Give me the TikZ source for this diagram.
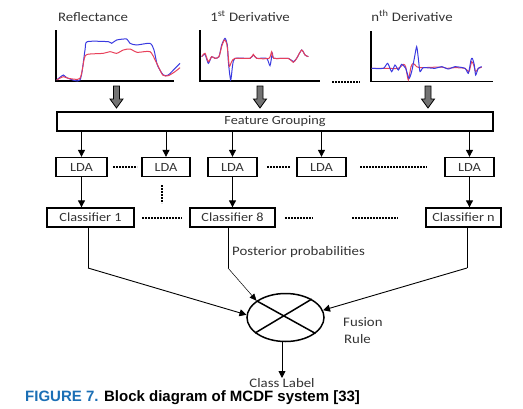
\documentclass[tikz,border=0pt]{standalone}
\usepackage{fontspec}
\setmainfont{Carlito}[FakeStretch=1.14]
\newfontfamily\capfont{Liberation Sans}
\usetikzlibrary{arrows.meta,shapes.geometric}
\definecolor{capblue}{HTML}{1B6FB5}
\definecolor{blueline}{HTML}{3A3AE0}
\definecolor{redline}{HTML}{E8405A}
\definecolor{txt}{HTML}{333333}
\begin{document}
\begin{tikzpicture}[x=1pt,y=-1pt,
  box/.style={draw, line width=1.3pt, minimum height=19pt, inner sep=0pt, text=txt, font=\fontsize{12.5}{14}\selectfont},
  arr/.style={-{Triangle[length=7pt,width=7pt]}, line width=0.9pt},
  thinarr/.style={-{Triangle[length=7pt,width=6pt]}, line width=0.5pt},
  lbl/.style={font=\fontsize{13}{15}\selectfont, text=txt, inner sep=0pt},
  dotsline/.style={line width=1.6pt, dash pattern=on 1.8pt off 1.2pt},
  axis/.style={line width=1.1pt},
  bl/.style={blueline, line width=1pt},
  rd/.style={redline, line width=1pt},
  blockarr/.style={fill=black!55, draw=black, line width=0.8pt}
]
\useasboundingbox (0,0) rectangle (523,408);

% titles
\node[lbl] (t1) at (93,17) {Reflectance};
\node[lbl] (t2) at (250,16) {1\textsuperscript{st} Derivative};
\node[lbl] (t3) at (412,16) {n\textsuperscript{th} Derivative};

% plot 1
\begin{scope}[shift={(50,25)}, x=0.3333pt, y=-0.3333pt]
\draw[axis] (18,15) -- (18,168) -- (372,168);
\draw[bl] plot[smooth, tension=0.4] coordinates {(20,165) (40,150) (50,158) (90,165) (105,75) (112,50) (175,50) (185,55) (200,45) (230,42) (240,55) (260,60) (300,55) (312,75) (322,120) (340,150) (355,150) (375,130) (390,115)};
\draw[rd] plot[smooth, tension=0.4] coordinates {(20,165) (40,155) (55,160) (90,160) (103,100) (112,88) (160,85) (180,80) (200,85) (220,75) (240,72) (262,82) (300,80) (318,110) (338,150) (355,152) (375,140) (390,128)};
\end{scope}

% plot 2
\begin{scope}[shift={(195,25)}, x=0.3333pt, y=-0.3333pt]
\draw[axis] (15,15) -- (15,168) -- (375,168);
\draw[bl] plot[smooth, tension=0.4] coordinates {(20,95) (30,88) (40,115) (50,95) (60,100) (72,95) (80,60) (90,40) (97,60) (100,110) (107,165) (113,120) (120,100) (165,100) (175,90) (185,100) (215,100) (225,122) (232,85) (237,100) (280,100) (295,110) (305,100) (320,75) (330,90) (340,95)};
\draw[rd] plot[smooth, tension=0.4] coordinates {(20,95) (30,85) (40,110) (50,95) (60,100) (72,95) (80,65) (88,45) (95,55) (100,95) (103,125) (110,110) (120,100) (165,100) (175,88) (185,100) (222,100) (230,80) (237,100) (280,100) (295,112) (305,100) (320,75) (330,90) (340,95)};
\end{scope}

% plot 3
\begin{scope}[shift={(365,25)}, x=0.3333pt, y=-0.3333pt]
\draw[axis] (18,18) -- (18,170) -- (385,170);
\draw[rd] plot[smooth, tension=0.4] coordinates {(20,130) (60,130) (100,130) (115,118) (122,125) (130,165) (138,125) (145,115) (155,125) (170,128) (230,126) (245,130) (270,128) (300,130) (312,140) (320,110) (326,120) (332,140) (340,130) (350,127)};
\draw[bl] plot[smooth, tension=0.4] coordinates {(20,130) (55,130) (68,115) (80,140) (90,120) (100,135) (110,118) (122,130) (132,160) (140,140) (148,100) (155,65) (160,100) (165,140) (175,128) (210,130) (230,125) (250,132) (270,125) (300,130) (310,145) (318,105) (322,100) (328,120) (332,150) (340,130) (350,125)};
\end{scope}

\draw[dotsline] (332,82) -- (360,82);

% block arrows
\foreach \x in {116.5,260,428}{
  \draw[blockarr] (\x-3,86) -- (\x+3,86) -- (\x+3,99) -- (\x+6.5,99) -- (\x,108) -- (\x-6.5,99) -- (\x-3,99) -- cycle;
}

% feature grouping
\node[box, minimum width=436pt] (fg) at (275,121.5) {Feature Grouping};

% LDA
\node[box, minimum width=51pt] (lda1) at (81.5,167) {LDA};
\node[box, minimum width=48pt] (lda2) at (166,167) {LDA};
\node[box, minimum width=49pt] (lda3) at (232.5,167) {LDA};
\node[box, minimum width=49pt] (lda4) at (321.5,167) {LDA};
\node[box, minimum width=49pt] (lda5) at (469.5,167) {LDA};

\foreach \n in {lda1,lda2,lda3,lda4,lda5}{
  \draw[arr] (\n.north |- fg.south) -- (\n.north);
}

\draw[dotsline] (113,167) -- (137,167);
\draw[dotsline] (267,167) -- (290,167);
\draw[dotsline] (360,167) -- (427,167);
\draw[dotsline] (162,185) -- (162,203);

% classifiers
\node[box, minimum width=87pt] (c1) at (90.5,217.5) {Classifier 1};
\node[box, minimum width=85pt] (c8) at (232.5,217.5) {Classifier 8};
\node[box, minimum width=75pt] (cn) at (463.5,217.5) {Classifier n};

\draw[arr] (lda1.south) -- (lda1.south |- c1.north);
\draw[arr] (lda3.south) -- (lda3.south |- c8.north);
\draw[arr] (lda5.south) -- (lda5.south |- cn.north);

\draw[dotsline] (142,218) -- (182,218);
\draw[dotsline] (285,218) -- (313,218);
\draw[dotsline] (352,218) -- (398,218);

% fusion
\node[draw, ellipse, line width=1.5pt, minimum width=77pt, minimum height=48pt, inner sep=0pt] (fu) at (285.5,317.5) {};
\draw[line width=1.5pt] (fu.150) -- (fu.-28);
\draw[line width=1.5pt] (fu.35) -- (fu.-153);

\coordinate (k1) at (88,268);
\coordinate (k8) at (228,268);
\coordinate (kn) at (467,268);
\draw[line width=0.9pt] (c1.south -| k1) -- (k1);
\draw[arr] (k1) -- (fu.176);
\draw[line width=0.9pt] (c8.south -| k8) -- (k8);
\draw[thinarr] (k8) -- (fu.150);
\draw[line width=0.9pt] (cn.south -| kn) -- (kn);
\draw[arr] (kn) -- (fu.11);

\node[lbl, anchor=west] (pp) at (232,252) {Posterior probabilities};
\node[lbl, anchor=north west, align=left, font=\fontsize{13}{17}\selectfont] (fr) at (343,317) {Fusion\\[0pt]\hspace*{1pt}Rule};

\node[lbl, anchor=north] (cl) at (282,378) {Class Label};
\draw[arr] (cl.north |- fu.south) -- (cl.north);

% caption
\node[anchor=west, inner sep=0pt, font=\capfont\bfseries\fontsize{15}{17}\selectfont] (cap) at (25,397.5) {\textcolor{capblue}{FIGURE 7.} Block diagram of MCDF system [33]};
\end{tikzpicture}
\end{document}
